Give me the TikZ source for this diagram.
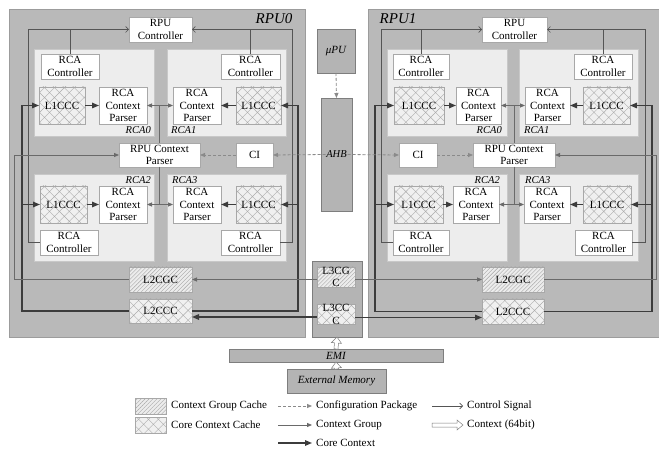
\documentclass[tikz,border=0pt]{standalone}
\usepackage{fontspec}
\setmainfont{Liberation Serif}
\usetikzlibrary{arrows.meta,patterns.meta,calc}
\definecolor{rpugray}{HTML}{B9B9B9}
\definecolor{rpuedge}{HTML}{9C9C9C}
\definecolor{panelfill}{HTML}{EDEDED}
\definecolor{paneledge}{HTML}{C8C8C8}
\definecolor{boxedge}{HTML}{A8A8A8}
\definecolor{darkfill}{HTML}{B4B4B4}
\definecolor{darkedge}{HTML}{7E7E7E}
\definecolor{ctrlcol}{HTML}{555555}
\definecolor{cgcol}{HTML}{6A6A6A}
\definecolor{corecol}{HTML}{3C3C3C}
\definecolor{cfgcol}{HTML}{8A8A8A}
\newcommand\bnode[7]{\node[#2, minimum width={(#5-(#3))*1pt}, minimum height={(#6-(#4))*1pt}] (#1) at ({(#3+#5)/2},{(#4+#6)/2}) {#7};}
\tikzset{
  base/.style={inner sep=0pt, outer sep=0pt, align=center},
  rpu/.style={base, fill=rpugray, draw=rpuedge, line width=0.6pt},
  panel/.style={base, fill=panelfill, draw=paneledge, line width=0.6pt},
  wbox/.style={base, fill=white, draw=boxedge, line width=0.5pt},
  ccbox/.style={base, preaction={fill=gray!12}, pattern={Hatch[angle=45,distance=7pt,line width=0.4pt]}, pattern color=gray!65, draw=boxedge, line width=0.5pt},
  cgbox/.style={base, preaction={fill=gray!15}, pattern={Lines[angle=45,distance=2.8pt,line width=0.4pt]}, pattern color=gray!70, draw=boxedge, line width=0.5pt},
  darkbox/.style={base, fill=darkfill, draw=darkedge, line width=0.5pt},
  ctrl/.style={draw=ctrlcol, line width=0.6pt, -{Straight Barb[length=3pt,width=6pt]}},
  ctrlline/.style={draw=ctrlcol, line width=0.6pt},
  cgrp/.style={draw=cgcol, line width=0.8pt, -{Triangle[length=5pt,width=4pt]}},
  core/.style={draw=corecol, line width=1.4pt, -{Triangle[length=7pt,width=5.5pt]}},
  cfg/.style={draw=cfgcol, line width=0.8pt, dash pattern=on 3pt off 2pt, -{Triangle[length=5pt,width=4pt]}},
  ctx/.style={draw=darkedge, fill=white, line width=0.5pt, to path={
    let \p1=(\tikztostart), \p2=(\tikztotarget), \n1={atan2(\y2-\y1,\x2-\x1)}, \n2={veclen(\x2-\x1,\y2-\y1)} in
    {[shift={(\p1)}, rotate=\n1] (0pt,-2pt) -- ({\n2*1pt-6pt},-2pt) -- ({\n2*1pt-6pt},-5pt) -- ({\n2*1pt},0pt) -- ({\n2*1pt-6pt},5pt) -- ({\n2*1pt-6pt},2pt) -- (0pt,2pt) -- cycle}}},
  rcalab/.style={font=\fontsize{10.5}{11}\selectfont\itshape, inner sep=0pt},
  rpulab/.style={font=\fontsize{15}{15}\selectfont\itshape, inner sep=0pt},
  legtext/.style={anchor=west, inner sep=0pt, font=\fontsize{11}{12}\selectfont}
}
\begin{document}
\begin{tikzpicture}[x=1pt,y=-1pt,font=\fontsize{11}{12.2}\selectfont]
\useasboundingbox (0,0) rectangle (659,449);
\clip (0,0) rectangle (659,449);
\fill[white] (0,0) rectangle (659,449);

% ---------- RPU frames ----------
\bnode{rpu0}{rpu}{9}{9}{305}{337}{}
\bnode{rpu1}{rpu}{368}{9}{663}{337}{}
\node[rpulab] (rpu0lab) at (274,19) {RPU0};
\node[rpulab] (rpu1lab) at (398,19) {RPU1};

% ---------- RCA panels ----------
\bnode{pa0}{panel}{34}{49}{154}{136}{}
\bnode{pa1}{panel}{167}{49}{286}{136}{}
\bnode{pa2}{panel}{34}{174}{154}{261}{}
\bnode{pa3}{panel}{167}{174}{286}{261}{}
\bnode{pb0}{panel}{387}{49}{507}{136}{}
\bnode{pb1}{panel}{519}{49}{638}{136}{}
\bnode{pb2}{panel}{387}{174}{507}{261}{}
\bnode{pb3}{panel}{519}{174}{638}{261}{}
\node[rcalab, anchor=east] (la0) at (151,130) {RCA0};
\node[rcalab, anchor=west] (la1) at (171,130) {RCA1};
\node[rcalab, anchor=east] (la2) at (151,180) {RCA2};
\node[rcalab, anchor=west] (la3) at (172,180) {RCA3};
\node[rcalab, anchor=east] (lb0) at (502,130) {RCA0};
\node[rcalab, anchor=west] (lb1) at (524,130) {RCA1};
\node[rcalab, anchor=east] (lb2) at (500,180) {RCA2};
\node[rcalab, anchor=west] (lb3) at (525,180) {RCA3};

% ---------- RPU0 boxes ----------
\bnode{rpuc0}{wbox}{129}{17}{192}{42}{RPU\\Controller}
\bnode{c0}{wbox}{41}{54}{99}{79}{RCA\\Controller}
\bnode{l10}{ccbox}{39}{87}{85}{124}{L1CCC}
\bnode{p0}{wbox}{99}{87}{147}{124}{RCA\\Context\\Parser}
\bnode{c1}{wbox}{221}{54}{280}{79}{RCA\\Controller}
\bnode{p1}{wbox}{173}{87}{221}{124}{RCA\\Context\\Parser}
\bnode{l11}{ccbox}{236}{87}{281}{124}{L1CCC}
\bnode{rcp0}{wbox}{119}{143}{200}{167}{RPU Context\\Parser}
\bnode{ci0}{wbox}{236}{143}{273}{167}{CI}
\bnode{l12}{ccbox}{40}{186}{87}{223}{L1CCC}
\bnode{p2}{wbox}{99}{186}{147}{223}{RCA\\Context\\Parser}
\bnode{c2}{wbox}{40}{230}{98}{255}{RCA\\Controller}
\bnode{p3}{wbox}{173}{186}{221}{223}{RCA\\Context\\Parser}
\bnode{l13}{ccbox}{236}{186}{281}{223}{L1CCC}
\bnode{c3}{wbox}{221}{230}{280}{255}{RCA\\Controller}
\bnode{l2cg0}{cgbox}{129}{267}{192}{292}{L2CGC}
\bnode{l2cc0}{ccbox}{129}{299}{192}{323}{L2CCC}

% ---------- RPU1 boxes ----------
\bnode{rpuc1}{wbox}{482}{17}{547}{42}{RPU\\Controller}
\bnode{d0}{wbox}{393}{54}{449}{79}{RCA\\Controller}
\bnode{m0}{ccbox}{394}{87}{444}{124}{L1CCC}
\bnode{q0}{wbox}{456}{87}{501}{124}{RCA\\Context\\Parser}
\bnode{q1}{wbox}{525}{87}{570}{124}{RCA\\Context\\Parser}
\bnode{m1}{ccbox}{583}{87}{630}{124}{L1CCC}
\bnode{d1}{wbox}{574}{54}{632}{79}{RCA\\Controller}
\bnode{ci1}{wbox}{399}{143}{437}{167}{CI}
\bnode{rcp1}{wbox}{473}{143}{555}{167}{RPU Context\\Parser}
\bnode{m2}{ccbox}{394}{186}{443}{223}{L1CCC}
\bnode{q2}{wbox}{453}{186}{499}{223}{RCA\\Context\\Parser}
\bnode{d2}{wbox}{393}{230}{449}{255}{RCA\\Controller}
\bnode{q3}{wbox}{524}{186}{570}{223}{RCA\\Context\\Parser}
\bnode{m3}{ccbox}{583}{186}{631}{223}{L1CCC}
\bnode{d3}{wbox}{575}{230}{632}{255}{RCA\\Controller}
\bnode{l2cg1}{cgbox}{482}{267}{544}{292}{L2CGC}
\bnode{l2cc1}{ccbox}{482}{299}{544}{324}{L2CCC}

% ---------- centre column ----------
\bnode{upu}{darkbox}{317}{29}{355}{73}{\itshape μPU}
\bnode{ahb}{darkbox}{321}{98}{352}{211}{}
\bnode{l3}{darkbox}{312}{261}{362}{337}{}
\bnode{l3cg}{cgbox}{317}{267}{355}{287}{L3CG\\C}
\bnode{l3cc}{ccbox}{317}{305}{355}{324}{L3CC\\C}
\bnode{emi}{darkbox}{229}{349}{443}{362}{\itshape EMI}
\bnode{ext}{darkbox}{287}{369}{386}{393}{\itshape External Memory}

% ---------- bend coordinates ----------
\coordinate (gA) at (14,0);
\coordinate (kA) at (22,0);
\coordinate (tA) at (28,0);
\coordinate (tB) at (292,0);
\coordinate (kB) at (298,0);
\coordinate (tC) at (381,0);
\coordinate (kC) at (375,0);
\coordinate (tD) at (645,0);
\coordinate (kD) at (652,0);
\coordinate (gD) at (656,0);

% ---------- control signals ----------
\draw[ctrl] (c2.west) -- (c2.west -| tA) |- (rpuc0.west);
\draw[ctrlline] (c0.north) -- (c0.north |- rpuc0.west);
\draw[ctrl] (c3.east) -- (c3.east -| tB) |- (rpuc0.east);
\draw[ctrlline] (c1.north) -- (c1.north |- rpuc0.east);
\draw[ctrl] (d2.west) -- (d2.west -| tC) |- (rpuc1.west);
\draw[ctrlline] (d0.north) -- (d0.north |- rpuc1.west);
\draw[ctrl] (d3.east) -- (d3.east -| tD) |- (rpuc1.east);
\draw[ctrlline] (d1.north) -- (d1.north |- rpuc1.east);

% ---------- core context ----------
\draw[core] (l2cc0.west) -- (l2cc0.west -| kA) |- (l10.west);
\draw[core] (l2cc0.west -| kA) |- (l12.west);
\draw[core] (l2cc0.east) -- (l2cc0.east -| kB) |- (l11.east);
\draw[core] (l2cc0.east -| kB) |- (l13.east);
\draw[core] (l2cc1.west) -- (l2cc1.west -| kC) |- (m0.west);
\draw[core] (l2cc1.west -| kC) |- (m2.west);
\draw[core] (l2cc1.east) -- (l2cc1.east -| kD) |- (m1.east);
\draw[core] (l2cc1.east -| kD) |- (m3.east);
\draw[core] (l10) -- (p0);
\draw[core] (l11) -- (p1);
\draw[core] (l12) -- (p2);
\draw[core] (l13) -- (p3);
\draw[core] (m0) -- (q0);
\draw[core] (m1) -- (q1);
\draw[core] (m2) -- (q2);
\draw[core] (m3) -- (q3);
\coordinate (cin0) at ($(l2cc0.east)+(0,6)$);
\coordinate (cin1) at ($(l2cc1.west)+(0,6)$);
\draw[core] (l3cc.west |- cin0) -- (cin0);
\draw[core] (l3cc.east |- cin1) -- (cin1);

% ---------- context group ----------
\draw[cgrp] (l2cg0.west) -- (l2cg0.west -| gA) |- (rcp0.west);
\draw[cgrp] (l2cg1.east) -- (l2cg1.east -| gD) |- (rcp1.east);
\draw[cgrp] (rcp0.north) |- (p0.east);
\draw[cgrp] (rcp0.north) |- (p1.west);
\draw[cgrp] (rcp0.south) |- (p2.east);
\draw[cgrp] (rcp0.south) |- (p3.west);
\draw[cgrp] (rcp1.north) |- (q0.east);
\draw[cgrp] (rcp1.north) |- (q1.west);
\draw[cgrp] (rcp1.south) |- (q2.east);
\draw[cgrp] (rcp1.south) |- (q3.west);
\draw[cgrp] (l3cg.west |- l2cg0.east) -- (l2cg0.east);
\draw[cgrp] (l3cg.east |- l2cg1.west) -- (l2cg1.west);

% ---------- configuration ----------
\draw[cfg] (upu.south) -- (ahb.north);
\draw[cfg] ($(ahb.center)+(-11,0)$) -- (ci0.east);
\draw[cfg] ($(ahb.center)+(11,0)$) -- (ci1.west);
\node[inner sep=0pt, font=\fontsize{10.5}{11}\selectfont\itshape] (ahblab) at (ahb.center) {AHB};
\draw[cfg] (ci0.west) -- (rcp0.east);
\draw[cfg] (ci1.east) -- (rcp1.west);

% ---------- hollow context arrows ----------
\path[ctx] (ext.north) to (emi.south);
\path[ctx] (emi.north) to (l3.south);

% ---------- legend ----------
\bnode{sw1}{cgbox}{135}{398}{166}{414}{}
\bnode{sw2}{ccbox}{135}{417}{166}{433}{}
\node[legtext] (t1) at (171,406) {Context Group Cache};
\node[legtext] (t2) at (171,425) {Core Context Cache};
\coordinate (a1s) at (278,406); \coordinate (a1e) at (312,406);
\coordinate (a2s) at (278,425); \coordinate (a2e) at (312,425);
\coordinate (a3s) at (278,443); \coordinate (a3e) at (312,443);
\coordinate (a4s) at (432,406); \coordinate (a4e) at (463,406);
\coordinate (a5s) at (432,425); \coordinate (a5e) at (463,425);
\draw[cfg] (a1s) -- (a1e);
\draw[cgrp] (a2s) -- (a2e);
\draw[core] (a3s) -- (a3e);
\draw[ctrl] (a4s) -- (a4e);
\path[ctx] (a5s) to (a5e);
\node[legtext] (t3) at (316,406) {Configuration Package};
\node[legtext] (t4) at (316,425) {Context Group};
\node[legtext] (t5) at (316,443) {Core Context};
\node[legtext] (t6) at (467,406) {Control Signal};
\node[legtext] (t7) at (467,425) {Context (64bit)};
\end{tikzpicture}
\end{document}
